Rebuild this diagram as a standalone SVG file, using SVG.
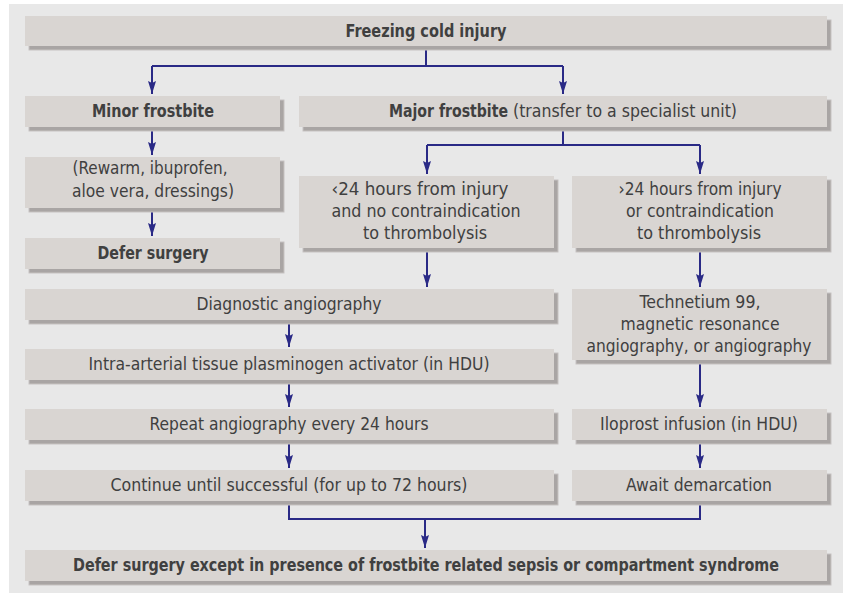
<svg xmlns="http://www.w3.org/2000/svg" width="848" height="593" viewBox="0 0 848 593">
<defs>
<style>
.bg{fill:#e8e8e8}
.sh{fill:#a9a5a4;stroke:#c6c2c1;stroke-width:1}
.bx{fill:#d9d5d2}
text{font-family:"DejaVu Sans Condensed","DejaVu Sans","Liberation Sans",sans-serif;font-stretch:condensed;font-size:17px;fill:#404040;text-anchor:middle}
.b{font-weight:bold}
.st{text-anchor:start}
.ln{fill:none;stroke:#2a2a86;stroke-width:2}
</style>
<marker id="ah" markerUnits="userSpaceOnUse" markerWidth="14" markerHeight="10" viewBox="0 0 14 10" refX="13" refY="5" orient="auto">
<path d="M0,1 L13,5 L0,9 L2,5 Z" fill="#2a2a86"/>
</marker>
</defs>
<rect class="bg" x="9" y="4" width="834" height="589"/>

<g id="connectors">
<path class="ln" d="M426,46 V66 M152,66 H563"/>
<path class="ln" d="M152,66 V94" marker-end="url(#ah)"/>
<path class="ln" d="M563,66 V94" marker-end="url(#ah)"/>
<path class="ln" d="M152,127 V155" marker-end="url(#ah)"/>
<path class="ln" d="M152,208 V236" marker-end="url(#ah)"/>
<path class="ln" d="M563,127 V145 M427,145 H700"/>
<path class="ln" d="M427,145 V174" marker-end="url(#ah)"/>
<path class="ln" d="M700,145 V174" marker-end="url(#ah)"/>
<path class="ln" d="M427,248 V287" marker-end="url(#ah)"/>
<path class="ln" d="M700,248 V287" marker-end="url(#ah)"/>
<path class="ln" d="M289,320 V347" marker-end="url(#ah)"/>
<path class="ln" d="M289,380 V407" marker-end="url(#ah)"/>
<path class="ln" d="M700,360 V407" marker-end="url(#ah)"/>
<path class="ln" d="M289,440 V468" marker-end="url(#ah)"/>
<path class="ln" d="M700,440 V468" marker-end="url(#ah)"/>
<path class="ln" d="M289,501 V519 H700 V501"/>
<path class="ln" d="M425,519 V548" marker-end="url(#ah)"/>
</g>

<g id="n-freezing">
<rect class="sh" x="29" y="20" width="802" height="30"/>
<rect class="bx" x="25" y="16" width="802" height="30"/>
<text class="b" x="426" y="37" textLength="161" lengthAdjust="spacingAndGlyphs">Freezing cold injury</text>
</g>
<g id="n-minor">
<rect class="sh" x="29" y="100" width="255" height="31"/>
<rect class="bx" x="25" y="96" width="255" height="31"/>
<text class="b" x="153" y="117" textLength="122" lengthAdjust="spacingAndGlyphs">Minor frostbite</text>
</g>
<g id="n-major">
<rect class="sh" x="303" y="100" width="528" height="31"/>
<rect class="bx" x="299" y="96" width="528" height="31"/>
<text class="b st" x="389" y="117" textLength="119" lengthAdjust="spacingAndGlyphs">Major frostbite</text>
<text class="st" x="513" y="117" textLength="224" lengthAdjust="spacingAndGlyphs">(transfer to a specialist unit)</text>
</g>
<g id="n-rewarm">
<rect class="sh" x="29" y="161" width="255" height="51"/>
<rect class="bx" x="25" y="157" width="255" height="51"/>
<text x="150" y="174" textLength="155" lengthAdjust="spacingAndGlyphs">(Rewarm, ibuprofen,</text>
<text x="153" y="197" textLength="162" lengthAdjust="spacingAndGlyphs">aloe vera, dressings)</text>
</g>
<g id="n-defer">
<rect class="sh" x="29" y="242" width="255" height="31"/>
<rect class="bx" x="25" y="238" width="255" height="31"/>
<text class="b" x="153" y="259" textLength="111" lengthAdjust="spacingAndGlyphs">Defer surgery</text>
</g>
<g id="n-lt24">
<rect class="sh" x="303" y="180" width="255" height="72"/>
<rect class="bx" x="299" y="176" width="255" height="72"/>
<text x="420" y="195" textLength="177" lengthAdjust="spacingAndGlyphs">‹24 hours from injury</text>
<text x="426" y="217" textLength="189" lengthAdjust="spacingAndGlyphs">and no contraindication</text>
<text x="425" y="239" textLength="124" lengthAdjust="spacingAndGlyphs">to thrombolysis</text>
</g>
<g id="n-gt24">
<rect class="sh" x="576" y="180" width="255" height="72"/>
<rect class="bx" x="572" y="176" width="255" height="72"/>
<text x="700" y="195" textLength="163" lengthAdjust="spacingAndGlyphs">›24 hours from injury</text>
<text x="700" y="217" textLength="148" lengthAdjust="spacingAndGlyphs">or contraindication</text>
<text x="699" y="239" textLength="124" lengthAdjust="spacingAndGlyphs">to thrombolysis</text>
</g>
<g id="n-diag">
<rect class="sh" x="29" y="293" width="529" height="31"/>
<rect class="bx" x="25" y="289" width="529" height="31"/>
<text x="289" y="310" textLength="185" lengthAdjust="spacingAndGlyphs">Diagnostic angiography</text>
</g>
<g id="n-tech">
<rect class="sh" x="576" y="293" width="255" height="71"/>
<rect class="bx" x="572" y="289" width="255" height="71"/>
<text x="700" y="308" textLength="121" lengthAdjust="spacingAndGlyphs">Technetium 99,</text>
<text x="700" y="330" textLength="159" lengthAdjust="spacingAndGlyphs">magnetic resonance</text>
<text x="699" y="352" textLength="225" lengthAdjust="spacingAndGlyphs">angiography, or angiography</text>
</g>
<g id="n-intra">
<rect class="sh" x="29" y="353" width="529" height="31"/>
<rect class="bx" x="25" y="349" width="529" height="31"/>
<text x="289" y="370" textLength="401" lengthAdjust="spacingAndGlyphs">Intra-arterial tissue plasminogen activator (in HDU)</text>
</g>
<g id="n-repeat">
<rect class="sh" x="29" y="413" width="529" height="31"/>
<rect class="bx" x="25" y="409" width="529" height="31"/>
<text x="289" y="430" textLength="279" lengthAdjust="spacingAndGlyphs">Repeat angiography every 24 hours</text>
</g>
<g id="n-iloprost">
<rect class="sh" x="576" y="413" width="255" height="31"/>
<rect class="bx" x="572" y="409" width="255" height="31"/>
<text x="699" y="430" textLength="198" lengthAdjust="spacingAndGlyphs">Iloprost infusion (in HDU)</text>
</g>
<g id="n-continue">
<rect class="sh" x="29" y="474" width="529" height="31"/>
<rect class="bx" x="25" y="470" width="529" height="31"/>
<text x="289" y="491" textLength="357" lengthAdjust="spacingAndGlyphs">Continue until successful (for up to 72 hours)</text>
</g>
<g id="n-await">
<rect class="sh" x="576" y="474" width="255" height="31"/>
<rect class="bx" x="572" y="470" width="255" height="31"/>
<text x="699" y="491" textLength="146" lengthAdjust="spacingAndGlyphs">Await demarcation</text>
</g>
<g id="n-final">
<rect class="sh" x="29" y="554" width="802" height="31"/>
<rect class="bx" x="25" y="550" width="802" height="31"/>
<text class="b" x="426" y="571" textLength="706" lengthAdjust="spacingAndGlyphs">Defer surgery except in presence of frostbite related sepsis or compartment syndrome</text>
</g>
</svg>
